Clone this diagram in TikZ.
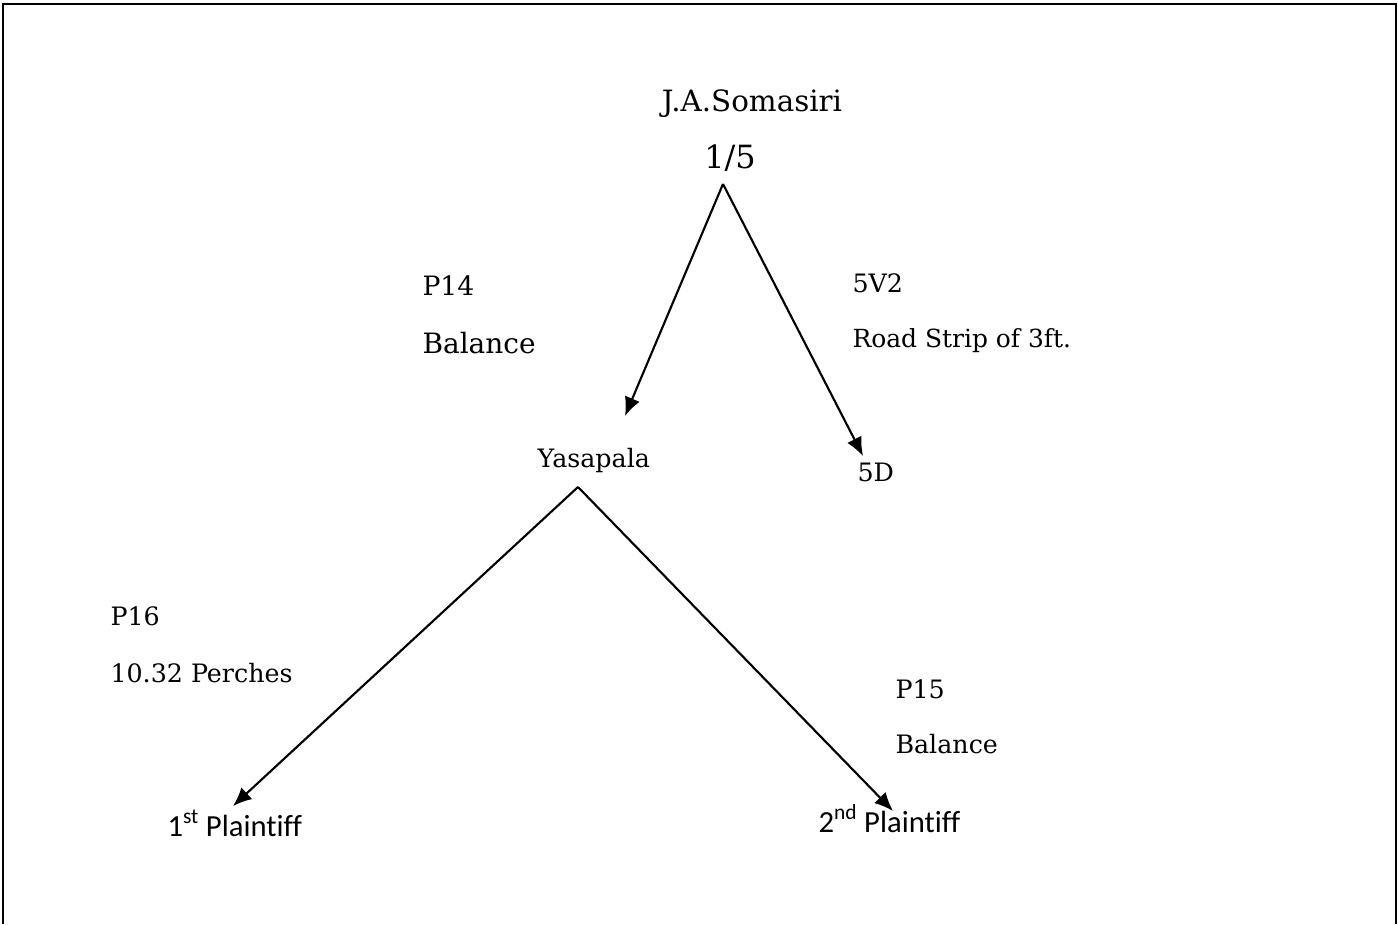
\documentclass[tikz,border=0pt]{standalone}
\usepackage{fontspec}
\setmainfont{DejaVu Serif}
\newfontfamily\plainsans[Ligatures=CommonOff]{Carlito}
\usetikzlibrary{arrows.meta}

\tikzset{every picture/.style={line width=0.75pt}}
\tikzset{
  txt/.style={inner sep=0pt, font=\fontsize{19}{22}\selectfont},
  sanstxt/.style={inner sep=0pt, font=\plainsans\fontsize{23}{26}\selectfont},
  link/.style={line width=1.6pt, -{Latex[length=14pt,width=12pt]}}
}

\begin{document}
\begin{tikzpicture}[x=0.75pt,y=0.75pt,yscale=-1,xscale=1]
		\useasboundingbox (0,0) rectangle (1398,924);
		
		%Shape: Frame
		\draw [line width=1.2pt]  (3,924) -- (3,4) -- (1396,4) -- (1396,924) ;
		
		% Text Node
		\node [txt, anchor=base, font=\fontsize{22}{26}\selectfont] (somasiri) at (752,111) {J.A.Somasiri};
		% Text Node
		\node [txt, anchor=base, font=\fontsize{24}{28}\selectfont] (share) at (730,168) {1/5};
		% Text Node
		\node [txt, anchor=base west, font=\fontsize{20}{24}\selectfont] (pfourteen) at (422,295) {P14};
		% Text Node
		\node [txt, anchor=base west, font=\fontsize{21}{24}\selectfont] (balanceleft) at (422,353) {Balance};
		% Text Node
		\node [txt, anchor=base west] (fivevtwo) at (852,292) {5V2};
		% Text Node
		\node [txt, anchor=base west, font=\fontsize{18.7}{22}\selectfont] (roadstrip) at (852,347) {Road Strip of 3ft.};
		% Text Node
		\node [txt, anchor=base west] (yasapala) at (537,467) {Yasapala};
		% Text Node
		\node [txt, anchor=base west] (fived) at (857,481) {5D};
		% Text Node
		\node [txt, anchor=base west] (psixteen) at (110,625) {P16};
		% Text Node
		\node [txt, anchor=base west] (perches) at (110,682) {10.32 Perches};
		% Text Node
		\node [txt, anchor=base west] (pfifteen) at (895,698) {P15};
		% Text Node
		\node [txt, anchor=base west] (balanceright) at (895,753) {Balance};
		% Text Node
		\node [sanstxt, anchor=base west] (firstpl) at (167,836) {1\textsuperscript{st} Plaintiff};
		% Text Node
		\node [sanstxt, anchor=base west] (secondpl) at (818,832) {2\textsuperscript{nd} Plaintiff};
		
		%Coordinates of the forks and arrow tips
		\coordinate (topfork) at (723,184);
		\coordinate (midfork) at (578,487);
		\coordinate (tipyasa) at (625,416);
		\coordinate (tipfived) at (863,456);
		\coordinate (tipfirst) at (233,806);
		\coordinate (tipsecond) at (893,811);
		
		%Straight Lines
		\draw [link] (topfork) -- (tipyasa) ;
		%Straight Lines
		\draw [link] (topfork) -- (tipfived) ;
		%Straight Lines
		\draw [link] (midfork) -- (tipfirst) ;
		%Straight Lines
		\draw [link] (midfork) -- (tipsecond) ;
		
\end{tikzpicture}
\end{document}
